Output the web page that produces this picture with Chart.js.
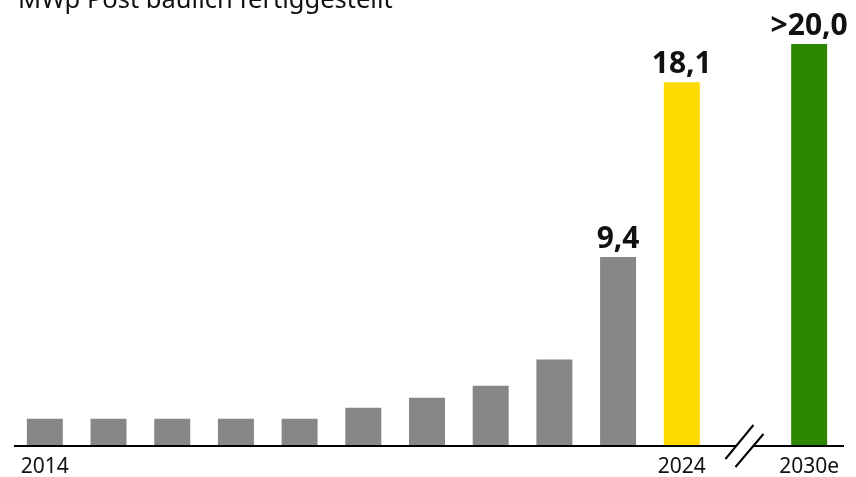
<!DOCTYPE html>
<html>
<head>
<meta charset="utf-8">
<script src="https://cdn.jsdelivr.net/npm/chart.js@4"></script>
<style>
  html, body { margin: 0; padding: 0; background: #fff; }
  #wrap { position: relative; width: 856px; height: 477px; }
</style>
</head>
<body>
<div id="wrap"><canvas id="c" width="856" height="477"></canvas></div>
<script>
const titleText = 'MWp Post baulich fertiggestellt';
const categories = ['2014','2015','2016','2017','2018','2019','2020','2021','2022','2023','2024','','2030e'];
const tickLabels = ['2014','','','','','','','','','','2024','','2030e'];
const values = [1.35, 1.35, 1.35, 1.35, 1.35, 1.9, 2.4, 3.0, 4.3, 9.4, 18.1, null, 20.0];
const valueLabels = ['','','','','','','','','','9,4','18,1','','>20,0'];
const barColors = ['#878787','#878787','#878787','#878787','#878787','#878787','#878787','#878787','#878787','#878787','#FFDA00','#ffffff','#2D8600'];
const breakIndex = 11;

const FONT = '"Noto Sans", sans-serif';

const overlay = {
  id: 'overlay',
  afterDraw(chart) {
    const ctx = chart.ctx;
    const area = chart.chartArea;
    const xs = chart.scales.x;
    const meta = chart.getDatasetMeta(0);
    ctx.save();
    // title (cut off at top as in reference)
    ctx.fillStyle = '#111';
    ctx.font = '400 25.5px ' + FONT;
    ctx.textAlign = 'left';
    ctx.textBaseline = 'alphabetic';
    ctx.fillText(titleText, 18, 8);

    // value labels
    ctx.font = '700 30px ' + FONT;
    ctx.textAlign = 'center';
    meta.data.forEach((bar, i) => {
      const t = valueLabels[i];
      if (!t) return;
      ctx.fillText(t, bar.x, bar.y - 9);
    });

    // axis line with break
    const y = area.bottom;
    const bx = xs.getPixelForValue(breakIndex);
    ctx.strokeStyle = '#000';
    ctx.lineWidth = 2;
    ctx.beginPath();
    ctx.moveTo(area.left + 1, y);
    ctx.lineTo(bx - 9, y);
    ctx.moveTo(bx + 8, y);
    ctx.lineTo(area.right + 3, y);
    ctx.stroke();
    // slashes
    ctx.beginPath();
    ctx.moveTo(bx - 20, y + 13);
    ctx.lineTo(bx + 8, y - 21);
    ctx.moveTo(bx - 10, y + 21);
    ctx.lineTo(bx + 18, y - 12);
    ctx.stroke();
    ctx.restore();
  }
};

new Chart(document.getElementById('c'), {
  type: 'bar',
  data: {
    labels: categories,
    datasets: [{
      data: values,
      backgroundColor: barColors,
      borderWidth: 0,
      barPercentage: 0.565,
      categoryPercentage: 1.0
    }]
  },
  options: {
    responsive: false,
    animation: false,
    devicePixelRatio: 1,
    layout: { padding: { top: 44, left: 13, right: 15, bottom: 0 } },
    plugins: { legend: { display: false }, tooltip: { enabled: false }, title: { display: false } },
    scales: {
      y: { display: false, min: 0, max: 20 },
      x: {
        grid: { display: false, drawTicks: false },
        border: { display: false },
        ticks: {
          color: '#111',
          font: { family: FONT, size: 21 },
          padding: 8,
          maxRotation: 0,
          autoSkip: false,
          callback: (v, i) => tickLabels[i]
        },
        afterFit: (s) => { s.height = 31; }
      }
    }
  },
  plugins: [overlay]
});
</script>
</body>
</html>
